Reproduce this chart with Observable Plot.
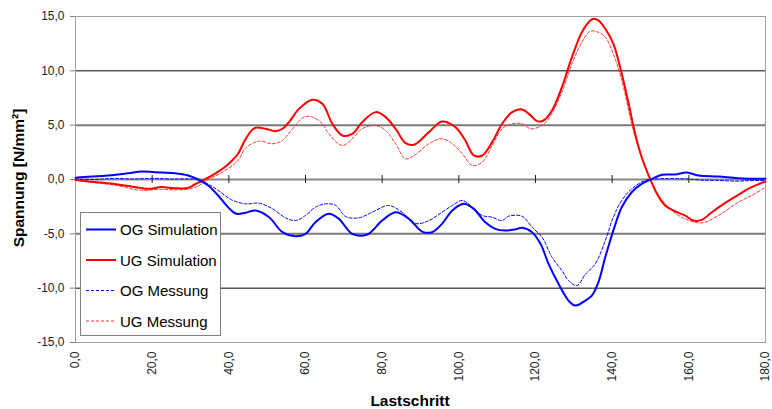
<!DOCTYPE html>
<html>
<head>
<meta charset="utf-8">
<script src="https://cdn.jsdelivr.net/npm/d3@7"></script>
<script src="https://cdn.jsdelivr.net/npm/@observablehq/plot@0.6"></script>
<style>
  body { margin: 0; background: #fff; }
  #chart { position: relative; width: 772px; height: 409px; }
</style>
</head>
<body>
<div id="chart"></div>
<script>
// ---- data ----
const xTicks = [0, 20, 40, 60, 80, 100, 120, 140, 160, 180];
const yTicks = [-15, -10, -5, 0, 5, 10, 15];
const gridBlack = [10, -10];
const gridGray = [5, -5];

const seriesNames = ["OG Simulation", "UG Simulation", "OG Messung", "UG Messung"];

const ogSimX = [0,1.2,8.5,13.8,17.2,20.7,25.9,29.4,32,34.6,37.2,39.8,42,44.4,47,50.5,54,57.4,60,62.6,66.1,68.7,72.2,76.1,80,83.5,87,90.4,93,95.6,98.3,101.3,103.9,106.9,109.5,112.1,114.7,116.5,119.1,121.3,123.4,126,128.6,130.4,133,134.7,136.4,138.2,140.3,142.5,145.1,147.7,150.4,153,156.4,159.5,162.5,167.7,172.9,180];
const ogSimY = [0.15,0.21,0.37,0.58,0.74,0.67,0.58,0.37,0,-0.55,-1.47,-2.55,-3.16,-3.05,-2.85,-3.47,-4.85,-5.22,-5.0,-3.93,-3.16,-3.62,-5.0,-5.06,-3.78,-3.01,-3.62,-4.79,-4.85,-4.08,-2.85,-2.24,-2.7,-3.93,-4.54,-4.7,-4.6,-4.45,-4.85,-5.92,-7.76,-9.6,-11.14,-11.6,-11.14,-10.68,-9.46,-7.15,-4.7,-2.55,-1.17,-0.4,0.06,0.43,0.46,0.64,0.37,0.28,0.12,0.06];

const ugSimX = [0,4,8.5,14.6,19,22.4,25.9,29.4,31.1,33.7,36.3,38.9,41,42.4,44.2,45.9,47,49.6,52.2,54,55.7,58.3,61.8,64.4,67,69.6,72.2,74.8,78.3,80.9,83.5,86.1,88.3,92.2,95.6,99.1,101.7,103.9,106.1,108.7,111.3,113.9,116.5,118.7,120.4,122.1,124.3,126.9,129.5,132.1,134.3,135.1,136.4,138.2,140.3,142.5,144.3,146,147.7,149.9,151.7,153.8,156.9,159,161.2,163.4,166,169.4,172.9,176.4,180];
const ugSimY = [-0.05,-0.2,-0.34,-0.64,-0.86,-0.7,-0.8,-0.77,-0.46,0,0.52,1.13,1.8,2.37,3.6,4.5,4.76,4.67,4.45,4.67,5.28,6.5,7.34,6.97,5.13,4.05,4.2,5.28,6.2,5.74,4.67,3.35,3.2,4.36,5.34,4.82,3.59,2.21,2.21,3.44,5.13,6.2,6.45,5.9,5.37,5.43,6.35,8.5,11.26,13.56,14.64,14.8,14.64,13.87,12.5,9.73,6.97,4.2,2.05,0.06,-1.32,-2.39,-3.01,-3.31,-3.78,-3.71,-3.01,-2.18,-1.41,-0.71,-0.18];

const ogMesX = [0,5,10,15,20,25,30,32,35,37.2,40.7,44.3,47.9,51.4,54.8,57.4,60,62.6,65.2,67.9,70.5,73.9,77.4,81.7,85.2,88.7,92.2,95.6,98.3,100.9,103.5,106.1,108.7,111.3,113,116.5,119.1,121.7,124.3,126.9,128.6,130.8,133,135.6,138.2,140.3,142.5,145.1,148.6,152,159,163,167.7,172.9,176,180];
const ogMesY = [0.05,0.0,0.1,0.05,0.1,0.05,0.05,0,-0.5,-1.0,-1.87,-2.24,-2.18,-2.7,-3.53,-3.78,-3.31,-2.55,-2.24,-2.39,-3.41,-3.53,-3.01,-2.39,-3.01,-4.05,-3.78,-3.01,-2.39,-1.93,-2.55,-3.31,-3.47,-3.78,-3.38,-3.38,-4.39,-5.31,-7.15,-8.38,-9.3,-9.76,-8.72,-7.76,-5.62,-3.47,-1.93,-0.86,-0.09,0.06,0.06,-0.05,-0.09,-0.15,-0.1,-0.09];

const ugMesX = [0,5,10,17.2,22,26,30,32,34.5,38,42.4,44.4,47.9,51.4,54,56.6,59.6,61.8,64.4,66.1,69.6,72.2,74.8,78.3,80.9,83.5,86.1,88.7,92.2,95.6,98.3,100.9,103.5,106.1,108.7,111.3,113.9,116.5,118.7,121.7,123.4,126.9,129.5,132.1,134.3,136,138.2,140.3,142.5,146,149.9,152,155.6,159,163.4,167.7,172.9,176.4,180];
const ugMesY = [-0.05,-0.3,-0.5,-1.0,-0.9,-0.95,-0.85,-0.6,0,0.6,1.75,2.9,3.53,3.29,3.6,4.67,5.74,5.74,5.13,4.2,3.13,3.75,4.67,4.97,4.51,3.29,1.9,2.3,3.29,3.75,3.29,2.37,1.29,1.6,3.13,4.67,5.13,5.13,4.67,4.97,5.59,8.04,10.65,12.65,13.65,13.6,13.1,11.57,9.12,3.9,0.06,-1.4,-2.85,-3.62,-3.99,-3.31,-2.09,-1.47,-0.71];

// ---- build tables ----
const toRows = (xs, ys) => xs.map((x, i) => ({x, y: ys[i]}));
const ogSim = toRows(ogSimX, ogSimY);
const ugSim = toRows(ugSimX, ugSimY);
const ogMes = toRows(ogMesX, ogMesY);
const ugMes = toRows(ugMesX, ugMesY);

const fmt = d => d.toFixed(1).replace(".", ",");
const FONT = "'Liberation Sans', Arial, sans-serif";

const styles = [
  {stroke: "#0000ff", strokeWidth: 2, dash: null},
  {stroke: "#ff0000", strokeWidth: 2, dash: null},
  {stroke: "#0000ff", strokeWidth: 1, dash: "3,2"},
  {stroke: "#ff3333", strokeWidth: 1, dash: "3,2"}
];

const chart = Plot.plot({
  width: 772,
  height: 409,
  marginLeft: 75,
  marginRight: 7,
  marginTop: 16,
  marginBottom: 67,
  style: {fontFamily: FONT, fontSize: "12px", color: "#222", background: "#fff", overflow: "visible"},
  x: {domain: [0, 180]},
  y: {domain: [-15, 15]},
  marks: [
    Plot.ruleY(gridBlack, {stroke: "#000", strokeWidth: 1}),
    Plot.ruleY(gridGray, {stroke: "#7a7a7a", strokeWidth: 2}),
    Plot.ruleY([0], {stroke: "#888", strokeWidth: 2}),
    Plot.ruleX(xTicks.slice(1, -1), {y1: 0, y2: 0, insetTop: -4, insetBottom: -4, stroke: "#222", strokeWidth: 1}),
    Plot.frame({stroke: "#a0a0a0"}),
    Plot.axisY({ticks: yTicks, tickFormat: fmt, tickSize: 5, tickPadding: 6, stroke: "#808080", label: null, fontSize: 12}),
    Plot.axisX({ticks: xTicks, tickFormat: fmt, tickSize: 0, tickPadding: 9, tickRotate: -90, label: null, fontSize: 12}),
    Plot.line(ogMes, {x: "x", y: "y", stroke: styles[2].stroke, strokeWidth: 1, strokeDasharray: "3,2", curve: "catmull-rom"}),
    Plot.line(ugMes, {x: "x", y: "y", stroke: styles[3].stroke, strokeWidth: 1, strokeDasharray: "3,2", curve: "catmull-rom"}),
    Plot.line(ugSim, {x: "x", y: "y", stroke: styles[1].stroke, strokeWidth: 2, curve: "catmull-rom"}),
    Plot.line(ogSim, {x: "x", y: "y", stroke: styles[0].stroke, strokeWidth: 2, curve: "catmull-rom"})
  ]
});

document.getElementById("chart").appendChild(chart);

// ---- axis titles and legend ----
const svg = d3.select(chart);

svg.append("text")
  .attr("transform", "translate(24,178) rotate(-90)")
  .attr("text-anchor", "middle")
  .attr("font-family", FONT)
  .attr("font-size", 15.5)
  .attr("font-weight", "bold")
  .attr("fill", "#000")
  .text("Spannung [N/mm²]");

svg.append("text")
  .attr("x", 410)
  .attr("y", 406)
  .attr("text-anchor", "middle")
  .attr("font-family", FONT)
  .attr("font-size", 15.5)
  .attr("font-weight", "bold")
  .attr("fill", "#000")
  .text("Lastschritt");

const lg = svg.append("g");
lg.append("rect")
  .attr("x", 80.5).attr("y", 212.5)
  .attr("width", 140).attr("height", 123)
  .attr("fill", "#fff").attr("stroke", "#808080").attr("stroke-width", 1);

seriesNames.forEach((name, i) => {
  const cy = 229.5 + i * 30.5;
  const s = styles[i];
  lg.append("line")
    .attr("x1", 86).attr("x2", 116)
    .attr("y1", cy).attr("y2", cy)
    .attr("stroke", s.stroke)
    .attr("stroke-width", s.strokeWidth)
    .attr("stroke-dasharray", s.dash);
  lg.append("text")
    .attr("x", 120).attr("y", cy + 5.5)
    .attr("text-anchor", "start")
    .attr("font-family", FONT)
    .attr("font-size", 15)
    .attr("fill", "#000")
    .text(name);
});
</script>
</body>
</html>
